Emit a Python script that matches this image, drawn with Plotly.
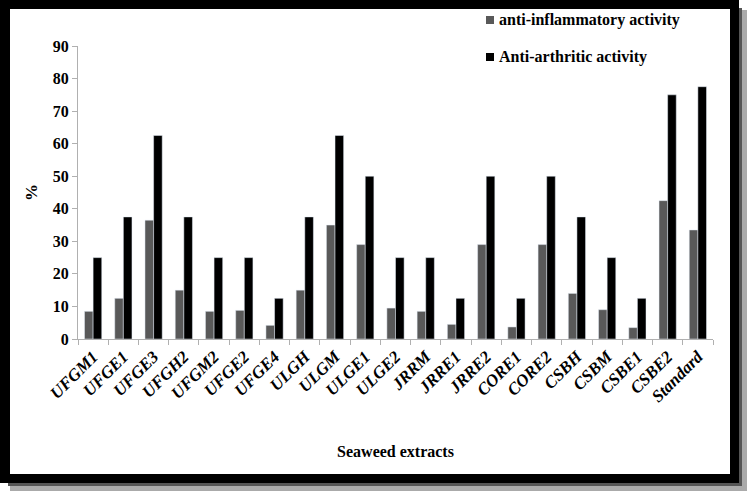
import plotly.graph_objects as go

# data
extracts = ["UFGM1", "UFGE1", "UFGE3", "UFGH2", "UFGM2", "UFGE2", "UFGE4", "ULGH",
            "ULGM", "ULGE1", "ULGE2", "JRRM", "JRRE1", "JRRE2", "CORE1", "CORE2",
            "CSBH", "CSBM", "CSBE1", "CSBE2", "Standard"]
anti_inflammatory = [8.5, 12.5, 36.5, 15, 8.5, 8.8, 4.2, 15, 35, 29, 9.5, 8.5, 4.5,
                     29, 3.7, 29, 14, 9, 3.5, 42.5, 33.5]
anti_arthritic = [25, 37.5, 62.5, 37.5, 25, 25, 12.5, 37.5, 62.5, 50, 25, 25, 12.5,
                  50, 12.5, 50, 37.5, 25, 12.5, 75, 77.5]
series_names = ["anti-inflammatory activity", "Anti-arthritic activity"]
series_colors = ["#595959", "#000000"]

W, H = 749, 494
L, R, T, B = 78, 36, 46, 155
PW, PH = W - L - R, H - T - B

def px(x):  # figure pixel -> paper x
    return (x - L) / PW

def py(y):  # figure pixel -> paper y
    return (H - B - y) / PH

def box(x0, y0, x1, y1, color, layer="above"):
    return dict(type="rect", xref="paper", yref="paper",
                x0=px(x0), x1=px(x1), y0=py(y1), y1=py(y0),
                fillcolor=color, line_width=0, layer=layer)

FONT = "Liberation Serif, Times New Roman, serif"

fig = go.Figure()
for name, vals, col in zip(series_names, [anti_inflammatory, anti_arthritic], series_colors):
    fig.add_trace(go.Bar(x=extracts, y=vals, name=name, marker_color=col))

shapes = [
    # drop shadow
    box(739, 8, 742, 486, "#555555", "below"),
    box(742, 10, 747, 491, "#aaaaaa", "below"),
    box(8, 483, 742, 486, "#555555", "below"),
    box(10, 486, 747, 491, "#aaaaaa", "below"),
    # black frame
    box(0, 0, 739, 9, "black"),
    box(0, 0, 10, 483, "black"),
    box(730, 0, 739, 483, "black"),
    box(0, 474, 739, 483, "black"),
]

# hand-placed legend (plotly's own legend cannot sit this close to the top edge)
annotations = []
for i, (name, col) in enumerate(zip(series_names, series_colors)):
    yc = 20 + 37 * i
    shapes.append(box(486, yc - 4, 494, yc + 4, col))
    annotations.append(dict(xref="paper", yref="paper", x=px(497), y=py(yc),
                            xanchor="left", yanchor="middle", showarrow=False,
                            text="<b>%s</b>" % name,
                            font=dict(family=FONT, size=16, color="black")))

fig.update_layout(
    width=W, height=H,
    margin=dict(l=L, r=R, t=T, b=B),
    paper_bgcolor="white", plot_bgcolor="white",
    barmode="group", bargap=0.43, bargroupgap=0,
    font=dict(family=FONT, color="black", size=15),
    shapes=shapes, annotations=annotations,
    showlegend=False,
    xaxis=dict(
        type="category", tickangle=-45, tickson="boundaries",
        ticks="outside", ticklen=5, tickcolor="#b0b0b0",
        showline=True, linecolor="#b0b0b0", linewidth=1,
        tickfont=dict(family=FONT, size=17, weight="bold", style="italic"),
        title=dict(text="Seaweed extracts", font=dict(family=FONT, size=16, weight="bold"),
                   standoff=40),
    ),
    yaxis=dict(
        range=[0, 90], dtick=10, showgrid=False, zeroline=False,
        ticks="outside", ticklen=5, tickcolor="#b0b0b0",
        showline=True, linecolor="#b0b0b0", linewidth=1,
        tickfont=dict(family=FONT, size=16, weight="bold"),
        title=dict(text="%", font=dict(family=FONT, size=17, weight="bold"), standoff=10),
    ),
)

# page body has a default 8px margin; drop it so the figure fills the window exactly
fig.write_html("out.html", config={"displayModeBar": False},
               post_script="document.body.style.margin='0';"
                           "document.documentElement.style.overflow='hidden';"
                           "window.scrollTo(0,0);")
